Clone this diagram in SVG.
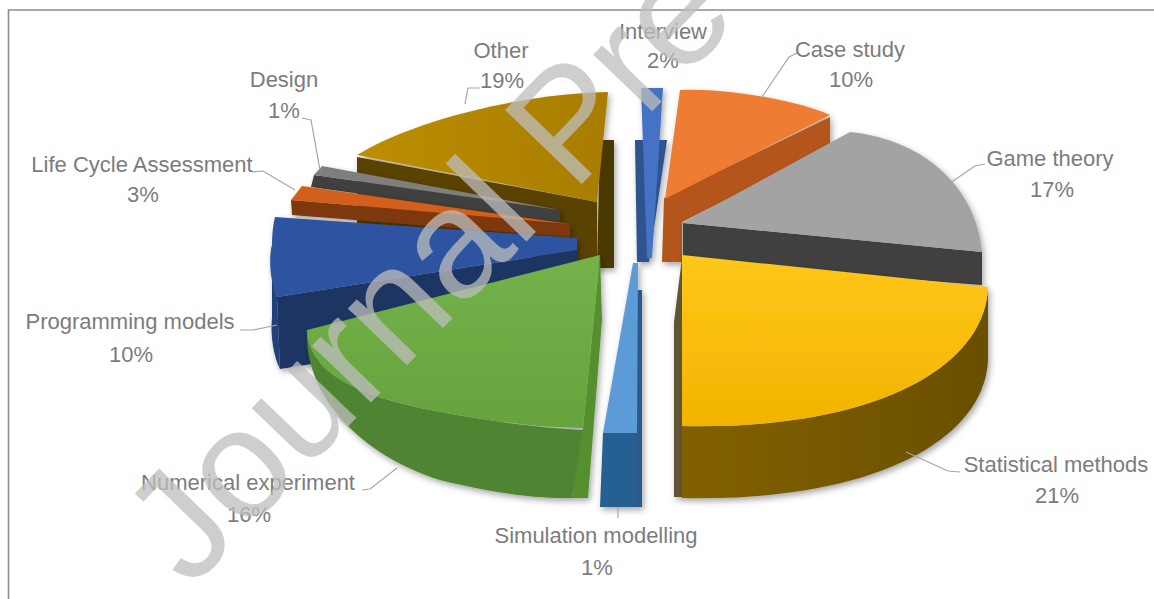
<svg xmlns="http://www.w3.org/2000/svg" width="1154" height="599" viewBox="0 0 1154 599">
<defs>
<style>
.lbl{font-family:"Liberation Sans",Arial,sans-serif;font-size:22px;fill:#7c7c7c;text-anchor:middle}
.lead{fill:none;stroke:#a6a6a6;stroke-width:1.2}
.wm{font-family:"Liberation Sans",Arial,sans-serif;font-size:155px;fill:#bdbdbd;fill-opacity:0.75}
</style>
<filter id="sh" x="-10%" y="-10%" width="130%" height="130%">
<feDropShadow dx="2" dy="3" stdDeviation="3" flood-color="#000" flood-opacity="0.35"/>
</filter>
<linearGradient id="gY" x1="0" y1="0" x2="0" y2="1"><stop offset="0" stop-color="#FFC71A"/><stop offset="1" stop-color="#F2B400"/></linearGradient>
<linearGradient id="gYs" x1="0" y1="0" x2="1" y2="0"><stop offset="0" stop-color="#826100"/><stop offset="1" stop-color="#6a4f00"/></linearGradient>
<linearGradient id="gG" x1="0" y1="0" x2="0" y2="1"><stop offset="0" stop-color="#74B24A"/><stop offset="1" stop-color="#66A33D"/></linearGradient>
<linearGradient id="gO" x1="0" y1="0" x2="1" y2="0"><stop offset="0" stop-color="#BD8E00"/><stop offset="1" stop-color="#A87D00"/></linearGradient>
</defs>
<rect x="0" y="0" width="1154" height="599" fill="#ffffff"/>
<path d="M8.5,599 L8.5,10 L1154,10" fill="none" stroke="#8c8c8c" stroke-width="1.6"/>

<g id="slice-other" filter="url(#sh)">
<path d="M357,157 L597,202 L597,268 L357,225 Z" fill="#5a4200"/>
<path d="M600,140 L614,140 L614,268 L597,268 Z" fill="#4a3700"/>
<path d="M357,155 C400,128 500,95 608,92 L597,202 Z" fill="url(#gO)"/>
</g>
<g id="slice-interview" filter="url(#sh)">
<path d="M635,140 L667,140 L649,262 L637,262 Z" fill="#2F528F"/>
<path d="M641,88 L663,88 L652,258 L647,258 Z" fill="#4472C4"/>
</g>
<g id="slice-case-study" filter="url(#sh)">
<path d="M664,198 L830,117 L830,147 L682,222 L682,262 L662,262 Z" fill="#B4561B"/>
<path d="M680,90 C720,88 790,98 830,115 L665,199 Z" fill="#EE7B30"/>
</g>
<g id="slice-game-theory" filter="url(#sh)">
<path d="M683,223 L982,252 L982,285 L683,262 Z" fill="#3f3f3f"/>
<path d="M683,223 L850,132 C915,138 975,180 982,252 Z" fill="#A3A3A3"/>
</g>
<g id="slice-design" filter="url(#sh)">
<path d="M314,175 L560,210 L560,222 L311,187 Z" fill="#3f3f3f"/>
<path d="M314,175 L322,166 L560,210 Z" fill="#7f7f7f"/>
</g>
<g id="slice-lca" filter="url(#sh)">
<path d="M291,200 L570,224 L570,237 L292,215 Z" fill="#7e370c"/>
<path d="M291,200 L302,186 L570,224 Z" fill="#D2611C"/>
</g>
<g id="slice-programming" filter="url(#sh)">
<path d="M277,297 L577,250 L577,322 L280,369 Z" fill="#1E3462"/>
<path d="M272,245 C270,265 272,285 277,297 L280,369 C274,357 270,337 272,317 Z" fill="#22407A"/>
<path d="M275,217 L577,238 L577,250 L277,297 C271,285 268,260 272,245 C272,235 273,225 275,217 Z" fill="#2D52A0"/>
</g>
<g id="slice-statistical" filter="url(#sh)">
<path d="M674,322 L682,258 L682,497 L674,497 Z" fill="#5f5532"/>
<path d="M988,288 C985,365 880,430 682,426 L682,498 C880,502 985,437 988,360 Z" fill="url(#gYs)"/>
<path d="M682,255 L988,287 C985,365 880,430 682,426 Z" fill="url(#gY)"/>
</g>
<g id="slice-numerical" filter="url(#sh)">
<path d="M307,330 C304,395 360,455 440,480 C500,495 545,499 572,498 L585,430 C540,428 485,421 420,408 C345,392 306,365 307,330 Z" fill="#4F8530"/>
<path d="M600,255 L602,320 L588,498 L572,498 L583,428 Z" fill="#56902F"/>
<path d="M307,330 L600,255 L583,428 C540,428 485,421 420,408 C345,392 306,365 307,330 Z" fill="url(#gG)"/>
</g>
<g id="slice-simulation" filter="url(#sh)">
<path d="M603,433 L641,433 L641,507 L600,507 Z" fill="#255E91"/>
<path d="M636,290 L642,290 L642,507 L636,507 Z" fill="#2a5a88"/>
<path d="M633,263 L638,263 L637,433 L603,433 Z" fill="#5B9BD5"/>
</g>

<g id="connectors">
<path class="lead" d="M480,88 L468,88 L465,104"/>
<path class="lead" d="M797,53 L789,57 L762,97"/>
<path class="lead" d="M985,164 L975,166 L950,183"/>
<path class="lead" d="M302,118 L311,120 L320,170"/>
<path class="lead" d="M252,172 L263,171 L295,190"/>
<path class="lead" d="M240,330 L253,330 L277,325"/>
<path class="lead" d="M362,490 L370,489 L397,468"/>
<path class="lead" d="M618,507 L618,518"/>
<path class="lead" d="M960,472 L948,471 L906,452"/>
</g>

<g id="label-interview"><text class="lbl" x="663" y="39">Interview</text><text class="lbl" x="663" y="68">2%</text></g>
<g id="label-case-study"><text class="lbl" x="850" y="57">Case study</text><text class="lbl" x="851" y="87">10%</text></g>
<g id="label-game-theory"><text class="lbl" x="1050" y="166">Game theory</text><text class="lbl" x="1052" y="197">17%</text></g>
<g id="label-statistical"><text class="lbl" x="1056" y="472">Statistical methods</text><text class="lbl" x="1057" y="503">21%</text></g>
<g id="label-simulation"><text class="lbl" x="596" y="543">Simulation modelling</text><text class="lbl" x="597" y="575">1%</text></g>
<g id="label-numerical"><text class="lbl" x="248" y="490">Numerical experiment</text><text class="lbl" x="249" y="522">16%</text></g>
<g id="label-programming"><text class="lbl" x="130" y="329">Programming models</text><text class="lbl" x="131" y="362">10%</text></g>
<g id="label-lca"><text class="lbl" x="142" y="172">Life Cycle Assessment</text><text class="lbl" x="143" y="202">3%</text></g>
<g id="label-design"><text class="lbl" x="284" y="87">Design</text><text class="lbl" x="284" y="118">1%</text></g>
<g id="label-other"><text class="lbl" x="501" y="58">Other</text><text class="lbl" x="502" y="88">19%</text></g>

<text class="wm" transform="translate(190,590) rotate(-46)">Journal Pre-proof</text>
</svg>
